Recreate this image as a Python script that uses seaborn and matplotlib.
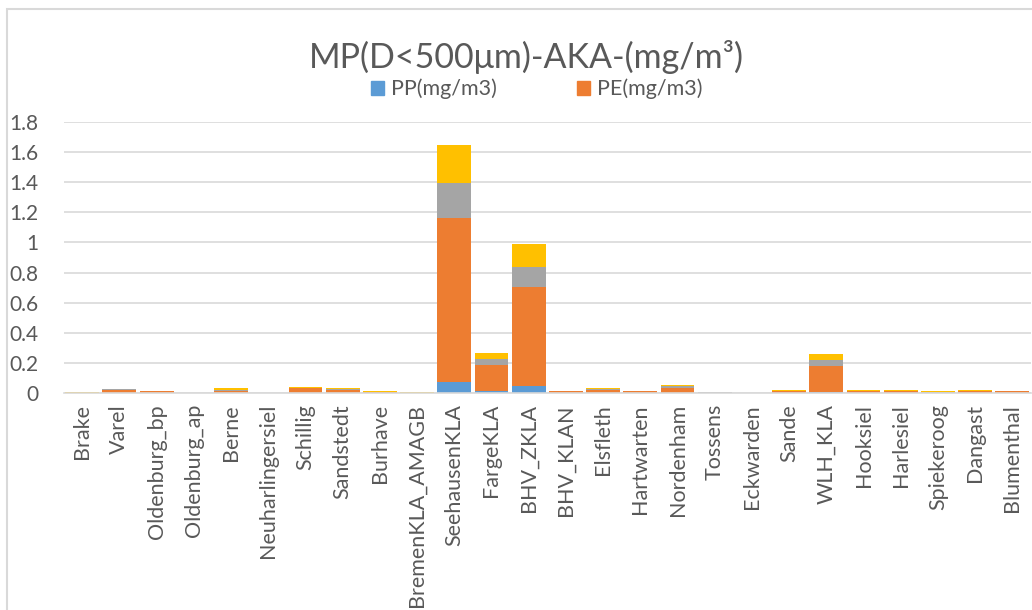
import matplotlib
matplotlib.use("Agg")
import matplotlib.pyplot as plt
import numpy as np
import seaborn as sns
from matplotlib.patches import Rectangle
from matplotlib.ticker import FuncFormatter, MultipleLocator

sites = [
    "Brake", "Varel", "Oldenburg_bp", "Oldenburg_ap", "Berne", "Neuharlingersiel",
    "Schillig", "Sandstedt", "Burhave", "BremenKLA_AMAGB", "SeehausenKLA", "FargeKLA",
    "BHV_ZKLA", "BHV_KLAN", "Elsfleth", "Hartwarten", "Nordenham", "Tossens",
    "Eckwarden", "Sande", "WLH_KLA", "Hooksiel", "Harlesiel", "Spiekeroog",
    "Dangast", "Blumenthal",
]
pp = [0.0, 0.001, 0.0, 0.0, 0.002, 0.0, 0.001, 0.002, 0.0, 0.0, 0.075, 0.010,
      0.046, 0.0, 0.002, 0.0, 0.003, 0.0, 0.0, 0.0, 0.007, 0.001, 0.001, 0.0,
      0.0, 0.0]
pe = [0.001, 0.022, 0.012, 0.0, 0.010, 0.0, 0.030, 0.018, 0.004, 0.001, 1.090, 0.178,
      0.656, 0.010, 0.018, 0.012, 0.030, 0.002, 0.0, 0.010, 0.172, 0.010, 0.010, 0.003,
      0.010, 0.010]
series3 = [0.001, 0.002, 0.003, 0.0, 0.010, 0.0, 0.003, 0.008, 0.002, 0.001, 0.232, 0.036,
           0.137, 0.004, 0.008, 0.002, 0.013, 0.002, 0.001, 0.006, 0.038, 0.005, 0.005, 0.003,
           0.006, 0.004]
series4 = [0.002, 0.004, 0.001, 0.0, 0.008, 0.0, 0.005, 0.005, 0.004, 0.002, 0.252, 0.044,
           0.152, 0.002, 0.004, 0.002, 0.010, 0.004, 0.002, 0.003, 0.042, 0.002, 0.002, 0.005,
           0.004, 0.002]

colors = ["#5B9BD5", "#ED7D31", "#A5A5A5", "#FFC000"]
labels = ["PP(mg/m3)", "PE(mg/m3)", None, None]
text_color = "#595959"

sns.set_theme(style="white")
plt.rcParams["font.family"] = ["Lato", "DejaVu Sans"]

fig = plt.figure(figsize=(10.32, 6.10), dpi=100)
ax = fig.add_axes([63.6 / 1032, 1 - 393 / 610, (1031 - 63.6) / 1032, (393 - 122) / 610])

bottom = np.zeros(len(sites))
handles = []
for vals, col, lab in zip([pp, pe, series3, series4], colors, labels):
    sns.barplot(x=sites, y=vals, bottom=bottom, color=col, width=0.91,
                saturation=1, errorbar=None, ax=ax, linewidth=0)
    if lab:
        handles.append(Rectangle((0, 0), 1, 1, color=col, label=lab))
    bottom = bottom + np.array(vals)

ax.set_ylim(0, 1.8)
ax.set_xlim(-0.5, len(sites) - 0.5)
ax.yaxis.set_major_locator(MultipleLocator(0.2))
ax.yaxis.set_major_formatter(FuncFormatter(lambda v, p: f"{round(v, 1):g}"))
ax.grid(axis="y", color="#D9D9D9", linewidth=1.2)
ax.set_axisbelow(True)
for s in ["top", "right", "left"]:
    ax.spines[s].set_visible(False)
ax.spines["bottom"].set_color("#D9D9D9")
ax.spines["bottom"].set_linewidth(1.2)
ax.tick_params(axis="y", length=0, pad=18, labelsize=15, labelcolor=text_color)
ax.tick_params(axis="x", length=0, pad=8, labelsize=15.5, labelcolor=text_color, rotation=90)
ax.set_xlabel("")
ax.set_ylabel("")

fig.text(526 / 1032, 1 - 57 / 610, "MP(D<500μm)-AKA-(mg/m³)", ha="center", va="center",
         fontsize=24.5, color=text_color)
fig.legend(handles=handles, loc="center", bbox_to_anchor=(537 / 1032, 1 - 89 / 610),
           ncol=2, frameon=False, fontsize=15.5, columnspacing=3.7, handlelength=0.6,
           handleheight=0.6, handletextpad=0.35, labelcolor=text_color,
           borderpad=0.1)

fig.patches.append(Rectangle((7 / 1032, -0.1), 1.2, 1.1 - 9 / 610, fill=False,
                             edgecolor="#D9D9D9", linewidth=1.5, transform=fig.transFigure))

fig.savefig("out.png", dpi=100)
